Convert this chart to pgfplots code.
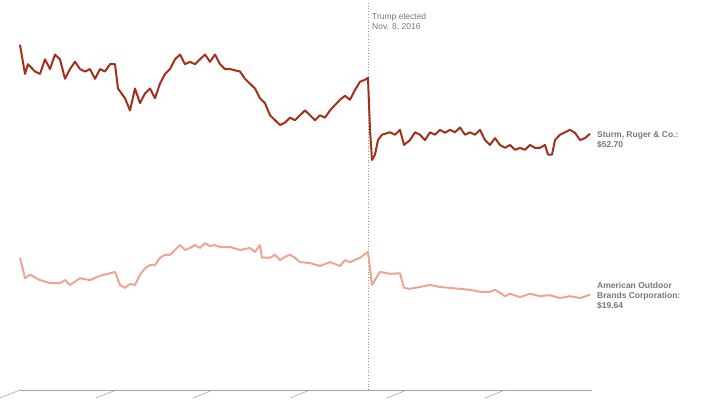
\documentclass[border=0pt]{standalone}
\usepackage{pgfplots}
\pgfplotsset{compat=1.18}
\usepackage{fontspec}
\setmainfont{Liberation Sans}
\definecolor{ruger}{HTML}{A3301C}
\definecolor{aobc}{HTML}{EFA393}
\definecolor{gridc}{HTML}{E6E6E6}
\definecolor{txt}{HTML}{777777}
\begin{document}
\begin{tikzpicture}[x=1pt,y=1pt]
\path[use as bounding box] (0,0) rectangle (713,410);
\begin{axis}[at={(20pt,20pt)},anchor=origin,scale only axis,width=572pt,height=389pt,
 xmin=20,xmax=592,ymin=0,ymax=80,
 axis lines=none,clip=false,
 ytick={0,10,...,70},
 ymajorgrids,grid style={gridc,line width=0.6pt},
 yticklabel style={font=\fontsize{8}{8}\selectfont,text=txt,anchor=east,xshift=2pt},
 /pgf/number format/assume math mode=true,
 xtick={68,164,261,358,456,552},
 xticklabels={May 2016,July 2016,Sept. 2016,Nov. 2016,Jan. 2017,March 2017},
 xticklabel style={font=\fontsize{8}{8}\selectfont,text=txt,yshift=-2pt},
 major tick length=0pt]
\draw[gray!70,line width=0.6pt] (axis cs:20,0) -- (axis cs:592,0);
\draw[gray!70,line width=0.6pt] (axis cs:20,0) -- ++(0,-8pt);
\draw[gray!70,line width=0.6pt] (axis cs:116,0) -- ++(0,-8pt);
\draw[gray!70,line width=0.6pt] (axis cs:213,0) -- ++(0,-8pt);
\draw[gray!70,line width=0.6pt] (axis cs:310,0) -- ++(0,-8pt);
\draw[gray!70,line width=0.6pt] (axis cs:407,0) -- ++(0,-8pt);
\draw[gray!70,line width=0.6pt] (axis cs:505,0) -- ++(0,-8pt);
\draw[gray!80,dotted,line width=0.8pt] (axis cs:368,0) -- (axis cs:368,80);
\node[anchor=north west,align=left,font=\fontsize{8.5}{10}\selectfont,text=txt,inner sep=0pt] at (axis cs:372,77.5) {Trump elected\\Nov. 8, 2016};
\addplot[aobc,line width=2pt,line join=round] coordinates {
(20,27.2)(25,23)(30,23.7)(40,22.6)(50,22)(60,22)(65,22.6)(70,21.6)(80,23)(90,22.6)(100,23.5)(110,24)(115,24.3)(120,21.6)(125,21)(130,21.8)(135,21.6)(140,23.7)(145,25)(150,25.7)(155,25.7)(160,27.2)(165,27.8)(170,27.8)(175,28.8)(180,29.8)(185,28.8)(190,29.2)(195,29.8)(200,29.2)(205,30.2)(210,29.6)(215,29.8)(220,29.4)(230,29.4)(240,28.8)(250,29.2)(255,28.4)(260,29.8)(262,27.2)(270,27.2)(275,27.8)(280,26.7)(285,27.4)(290,27.8)(295,27.2)(300,26.3)(310,26.1)(320,25.5)(330,26.3)(340,25.5)(345,26.7)(350,26.3)(360,27.2)(368,28.4)(372,21.6)(375,22.6)(380,24.3)(390,23.9)(400,24)(404,21)(410,20.8)(420,21.2)(430,21.6)(440,21.2)(450,21)(460,20.8)(470,20.6)(480,20.2)(490,20.2)(495,20.6)(500,20)(505,19.3)(510,19.8)(520,19.1)(530,19.8)(540,19.3)(550,19.5)(560,18.9)(570,19.3)(580,18.9)(590,19.6)};
\addplot[ruger,line width=2pt,line join=round] coordinates {
(20,71)(25,65)(28,67)(35,65.5)(40,65)(45,68)(50,66)(55,69)(60,68)(65,64)(70,66)(75,67.5)(80,66)(85,65.5)(90,66)(95,64)(100,66)(105,65.5)(110,67)(115,67)(118,62)(125,60)(130,57.5)(135,62)(140,59)(145,61)(150,62)(155,60)(160,63)(165,65)(170,66)(175,68)(180,69)(185,67)(190,67.5)(195,67)(200,68)(205,69)(210,67.5)(215,69)(220,67)(225,66)(230,66)(240,65.5)(245,64)(250,63)(255,62)(260,60)(265,59)(270,56.5)(275,55.5)(280,54.5)(285,55)(290,56)(295,55.5)(300,56.5)(305,57.5)(310,56.5)(315,55.5)(320,56.5)(325,56)(330,57.5)(335,58.6)(340,59.7)(345,60.5)(350,59.7)(355,61.7)(360,63.4)(365,63.8)(368,64.2)(370,53.5)(372,47.3)(375,48.4)(378,51.4)(382,52.5)(390,53)(395,52.5)(400,53.5)(404,50.4)(410,51.4)(415,53)(420,52.5)(425,51.4)(430,53)(435,52.5)(440,53.5)(445,52.9)(450,53.5)(455,53)(460,54)(465,52.5)(470,53)(475,52.5)(480,53.5)(485,51.4)(490,50.4)(495,51.8)(500,50.4)(505,49.8)(510,50.4)(515,49.4)(520,49.8)(525,49.4)(530,50.4)(535,49.8)(540,49.8)(545,50.4)(548,48.4)(552,48.4)(555,51.4)(560,52.5)(565,53)(570,53.5)(575,52.9)(580,51.4)(585,51.8)(590,52.7)};
\node[anchor=west,align=left,font=\bfseries\fontsize{8.5}{10}\selectfont,text=txt,inner sep=0pt] at (axis cs:597,51.5) {Sturm, Ruger \& Co.:\\\$52.70};
\node[anchor=west,align=left,font=\bfseries\fontsize{8.5}{10}\selectfont,text=txt,inner sep=0pt] at (axis cs:597,19.3) {American Outdoor\\Brands Corporation:\\\$19.64};
\end{axis}
\end{tikzpicture}
\end{document}
